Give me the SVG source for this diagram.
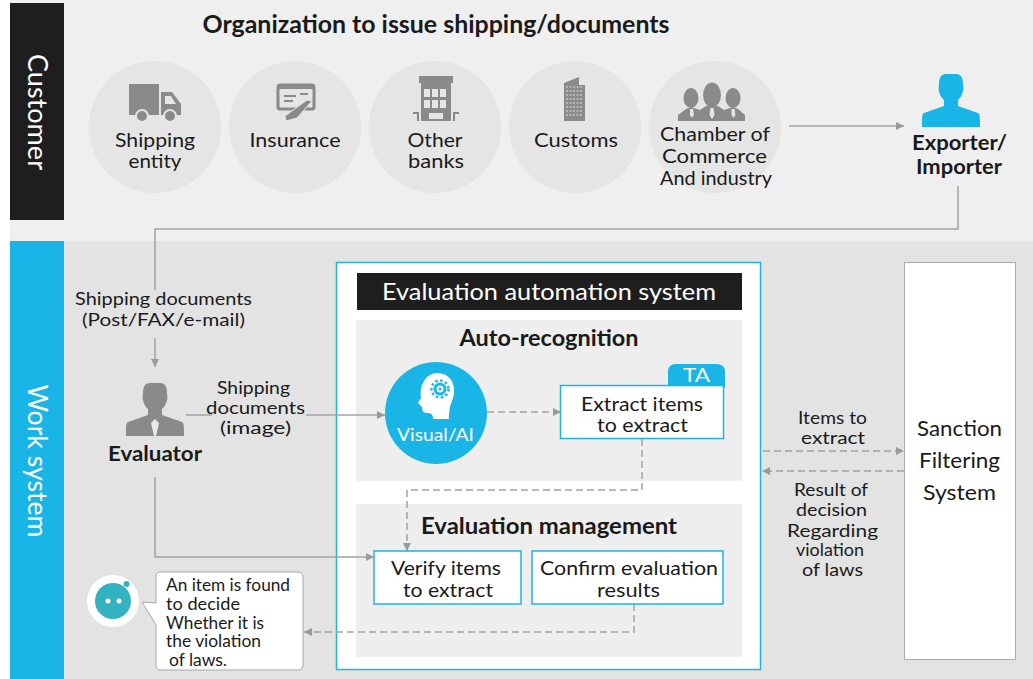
<svg xmlns="http://www.w3.org/2000/svg" width="1033" height="679" viewBox="0 0 1033 679">
<style>
text{font-family:"Lato","Liberation Sans",sans-serif;fill:#1a1a1a;font-size:20px;text-anchor:middle;font-weight:400}
text.b{font-weight:700}
text.s{font-size:18px}
text.l{font-size:17px;text-anchor:start}
text.w{fill:#fff}
text.h{font-size:22px}
.c{fill:#e5e5e5}
.i{fill:#8a8a8a}
.box{fill:#fff;stroke:#19b5e6;stroke-width:1.5}
.ln{fill:none;stroke:#a3a3a3;stroke-width:1.5}
.d{fill:none;stroke:#a3a3a3;stroke-width:1.5;stroke-dasharray:7 4}
</style>
<defs>
<marker id="a" markerWidth="9" markerHeight="8" refX="8" refY="4" orient="auto" markerUnits="userSpaceOnUse"><path d="M0 0L8 4L0 8Z" fill="#9a9a9a"/></marker>
<path id="person" d="M-5-27C-10-27-12-23-12-17C-12-14-13-12-12-10C-11-5-9-3-7-1L-7 5L-27 12C-29 13-29 16-29 26H29C29 16 29 13 27 12L7 5L7-1C9-3 11-5 12-10C13-12 12-14 12-17C12-23 10-27 5-27Z"/>
</defs>
<rect width="1033" height="679" fill="#fff"/>
<rect x="10" y="0" width="1023" height="241" fill="#efefef"/>
<rect x="10" y="241" width="1023" height="438" fill="#e3e3e3"/>
<g id="customer-band"><rect x="10" y="3" width="54" height="217" fill="#1e1e1e"/>
<text class="w" transform="translate(28 112) rotate(90)" style="font-size:27px" textLength="116" lengthAdjust="spacingAndGlyphs">Customer</text></g>
<g id="work-band"><rect x="10" y="241" width="54" height="438" fill="#19b5e6"/>
<text class="w" transform="translate(28 461) rotate(90)" style="font-size:27px" textLength="153" lengthAdjust="spacingAndGlyphs">Work system</text></g>
<text id="title" x="436" y="33" class="b" style="font-size:24px" textLength="467" lengthAdjust="spacingAndGlyphs">Organization to issue shipping/documents</text>

<g id="eval-system"><rect x="336.500" y="262.500" width="424" height="407" class="box"/>
<rect x="357" y="273" width="385" height="37" fill="#1e1e1e"/>
<text class="w" x="549" y="300" style="font-size:24px" textLength="334" lengthAdjust="spacingAndGlyphs">Evaluation automation system</text></g>
<g id="auto"><rect x="356" y="320" width="386" height="161" fill="#eee"/>
<text x="549" y="346" class="b h" textLength="179" lengthAdjust="spacingAndGlyphs">Auto-recognition</text></g>
<g id="mgmt"><rect x="356" y="504" width="386" height="153" fill="#eee"/>
<text x="549" y="534" class="b h" textLength="256" lengthAdjust="spacingAndGlyphs">Evaluation management</text></g>

<g id="connectors">
<path class="ln" d="M789 126H904" marker-end="url(#a)"/>
<path class="ln" d="M958 186V229H155V290"/>
<path class="ln" d="M155 338V367" marker-end="url(#a)"/>
<path class="ln" d="M186 415H212"/>
<path class="ln" d="M306 415H385" marker-end="url(#a)"/>
<path class="ln" d="M155 477V557H374" marker-end="url(#a)"/>
<path class="d" d="M487 412H561" marker-end="url(#a)"/>
<path class="d" d="M642 439V490H407V551" marker-end="url(#a)"/>
<path class="d" d="M634 604V632H304" marker-end="url(#a)"/>
<path class="d" d="M763 451H904" marker-end="url(#a)"/>
<path class="d" d="M904 471H762" marker-end="url(#a)"/>
</g>

<g id="shipping"><circle class="c" cx="155" cy="127" r="66"/>
<path class="i" d="M129 84H159V115H129ZM161 92H172L181 104V115H161ZM165 96V104H176L171 96Z" fill-rule="evenodd"/>
<circle class="i" cx="142" cy="116" r="6" stroke="#e5e5e5" stroke-width="2"/><circle class="i" cx="170" cy="116" r="6" stroke="#e5e5e5" stroke-width="2"/>
<text x="155" y="147" textLength="80" lengthAdjust="spacingAndGlyphs">Shipping</text><text x="155" y="168" textLength="53" lengthAdjust="spacingAndGlyphs">entity</text></g>
<g id="insurance"><circle class="c" cx="295" cy="127" r="66"/>
<rect x="278" y="85" width="36" height="24" rx="2" fill="none" stroke="#8a8a8a" stroke-width="3"/><rect class="i" x="278" y="84" width="36" height="5"/>
<path d="M284 96H296M284 101H293M300 94H308" stroke="#8a8a8a" stroke-width="2"/>
<path class="i" d="M307 100L312 101L297 118L286 121L285 116Z" stroke="#e5e5e5"/>
<text x="295" y="147" textLength="91" lengthAdjust="spacingAndGlyphs">Insurance</text></g>
<g id="banks"><circle class="c" cx="435" cy="127" r="66"/>
<path class="i" d="M419 76H453V83H451V121H421V83H419Z"/>
<path d="M424 89h6v8h-6zM432 89h6v8h-6zM440 89h6v8h-6zM424 100h6v8h-6zM432 100h6v8h-6zM440 100h6v8h-6zM429 113h14v6h-14z" fill="#e5e5e5"/>
<path class="i" d="M413 112h6v9h-2v-7h-4zM453 112h6v2h-4v7h-2z"/>
<text x="435" y="147" textLength="55" lengthAdjust="spacingAndGlyphs">Other</text><text x="436" y="168" textLength="56" lengthAdjust="spacingAndGlyphs">banks</text></g>
<g id="customs"><circle class="c" cx="575" cy="127" r="66"/>
<path class="i" d="M564 83L579 77V85H585V121H564Z"/>
<path d="M566 87H583M566 91H583M566 95H583M566 99H583M566 103H583M566 107H583M566 111H583M566 115H583" stroke="#c5c5c5" stroke-width="1.5" stroke-dasharray="2 1.500"/>
<text x="576" y="147" textLength="84" lengthAdjust="spacingAndGlyphs">Customs</text></g>
<g id="chamber"><circle class="c" cx="715" cy="127" r="66"/>
<ellipse class="i" cx="691" cy="98" rx="7.500" ry="10"/><ellipse class="i" cx="733" cy="98" rx="7.500" ry="10"/><ellipse class="i" cx="712" cy="95" rx="9" ry="12.500"/>
<path class="i" d="M678 121V115L686 109L691 107L700 110L706 106H718L724 110L733 107L738 109L745 115V121Z"/>
<path d="M690 109h3l1 6l-2 3l-2-3zM710.500 108h3l1 7l-2.500 4l-2.500-4zM731.500 109h3l1 6l-2 3l-2-3z" fill="#e5e5e5"/>
<text x="715" y="141" textLength="110" lengthAdjust="spacingAndGlyphs">Chamber of</text><text x="714.500" y="163" textLength="105" lengthAdjust="spacingAndGlyphs">Commerce</text><text x="716" y="185" textLength="112" lengthAdjust="spacingAndGlyphs">And industry</text></g>
<g id="exporter"><use href="#person" transform="translate(951 101)" fill="#19b5e6"/>
<text class="b" x="959.500" y="150" style="font-size:21px" textLength="95" lengthAdjust="spacingAndGlyphs">Exporter/</text><text class="b" x="959" y="174" style="font-size:21px" textLength="86" lengthAdjust="spacingAndGlyphs">Importer</text></g>

<text x="163.500" y="305" class="s" textLength="177" lengthAdjust="spacingAndGlyphs">Shipping documents</text><text x="163.500" y="326" class="s" textLength="163" lengthAdjust="spacingAndGlyphs">(Post/FAX/e-mail)</text>
<g id="evaluator"><use href="#person" transform="translate(155 410)" class="i"/><path d="M155 419L151 423L154 436H156L159 423Z" fill="#e8e8e8"/>
<text class="b" x="155" y="461" textLength="94" lengthAdjust="spacingAndGlyphs">Evaluator</text></g>
<text x="253.500" y="394" class="s" textLength="73" lengthAdjust="spacingAndGlyphs">Shipping</text><text x="255.500" y="414" class="s" textLength="99" lengthAdjust="spacingAndGlyphs">documents</text><text x="255.500" y="434" class="s" textLength="71" lengthAdjust="spacingAndGlyphs">(image)</text>

<g id="visual"><circle cx="436" cy="413" r="51" fill="#19b5e6"/>
<path d="M437 373C449 373 455 382 454 393C454 399 449 403 449 419H433C433 414 431 413 427 413C423 413 422 410 422 407L418 403L421 398C420 391 421 386 424 381C427 376 432 373 437 373Z" fill="#fff"/>
<circle cx="440" cy="389" r="8.500" fill="none" stroke="#19b5e6" stroke-width="2.500" stroke-dasharray="2.500 2.500"/>
<circle cx="440" cy="389" r="6.500" fill="#19b5e6"/><circle cx="440" cy="389" r="3.500" fill="#fff"/><circle cx="440" cy="389" r="1.500" fill="#19b5e6"/>
<text x="435.500" y="441" class="w s" textLength="77" lengthAdjust="spacingAndGlyphs">Visual/AI</text></g>
<g id="extract"><path d="M668 386V372Q668 364 676 364H716Q725 364 725 372V388H668Z" fill="#19b5e6"/>
<text class="w" x="696.500" y="382" textLength="27" lengthAdjust="spacingAndGlyphs">TA</text>
<rect x="560.500" y="385.500" width="163" height="53" class="box"/>
<text x="642" y="411" textLength="122" lengthAdjust="spacingAndGlyphs">Extract items</text><text x="642.500" y="432" textLength="91" lengthAdjust="spacingAndGlyphs">to extract</text></g>
<g id="verify"><rect x="374" y="551" width="147" height="53" class="box"/>
<text x="446" y="575" textLength="110" lengthAdjust="spacingAndGlyphs">Verify items</text><text x="448" y="597" textLength="90" lengthAdjust="spacingAndGlyphs">to extract</text></g>
<g id="confirm"><rect x="532" y="551" width="191" height="53" class="box"/>
<text x="629" y="575" textLength="178" lengthAdjust="spacingAndGlyphs">Confirm evaluation</text><text x="628.500" y="597" textLength="63" lengthAdjust="spacingAndGlyphs">results</text></g>
<g id="sanction"><rect x="904.500" y="262.500" width="111" height="397" fill="#fff" stroke="#aaa"/>
<text x="959.500" y="436" class="h" textLength="85" lengthAdjust="spacingAndGlyphs">Sanction</text><text x="959.500" y="468" class="h" textLength="81" lengthAdjust="spacingAndGlyphs">Filtering</text><text x="959.500" y="500" class="h" textLength="73" lengthAdjust="spacingAndGlyphs">System</text></g>
<text x="832.500" y="424" class="s" textLength="69" lengthAdjust="spacingAndGlyphs">Items to</text><text x="833" y="444" class="s" textLength="64" lengthAdjust="spacingAndGlyphs">extract</text>
<text x="831" y="496" class="s" textLength="74" lengthAdjust="spacingAndGlyphs">Result of</text><text x="831.500" y="516" class="s" textLength="71" lengthAdjust="spacingAndGlyphs">decision</text><text x="832.500" y="537" class="s" textLength="91" lengthAdjust="spacingAndGlyphs">Regarding</text><text x="830" y="556" class="s" textLength="68" lengthAdjust="spacingAndGlyphs">violation</text><text x="832.500" y="576" class="s" textLength="61" lengthAdjust="spacingAndGlyphs">of laws</text>
<g id="bot"><circle cx="113" cy="601" r="26" fill="#fff"/><circle cx="113" cy="601" r="18" fill="#33b2c1"/><circle cx="126.500" cy="584" r="3" fill="#33b2c1"/><circle cx="108" cy="601" r="2.500" fill="#fff"/><circle cx="119" cy="601" r="2.500" fill="#fff"/></g>
<g id="bubble"><path d="M161 572H298Q303 572 303 577V665Q303 670 298 670H161Q156 670 156 665V625L142 602L156 603V577Q156 572 161 572Z" fill="#fff" stroke="#a8a8a8"/>
<text x="166" y="591" class="l" textLength="124" lengthAdjust="spacingAndGlyphs">An item is found</text><text x="166" y="610" class="l" textLength="74" lengthAdjust="spacingAndGlyphs">to decide</text><text x="166" y="629" class="l" textLength="98" lengthAdjust="spacingAndGlyphs">Whether it is</text><text x="166" y="647" class="l" textLength="95" lengthAdjust="spacingAndGlyphs">the violation</text><text x="169" y="666" class="l" textLength="58" lengthAdjust="spacingAndGlyphs">of laws.</text></g>
</svg>
